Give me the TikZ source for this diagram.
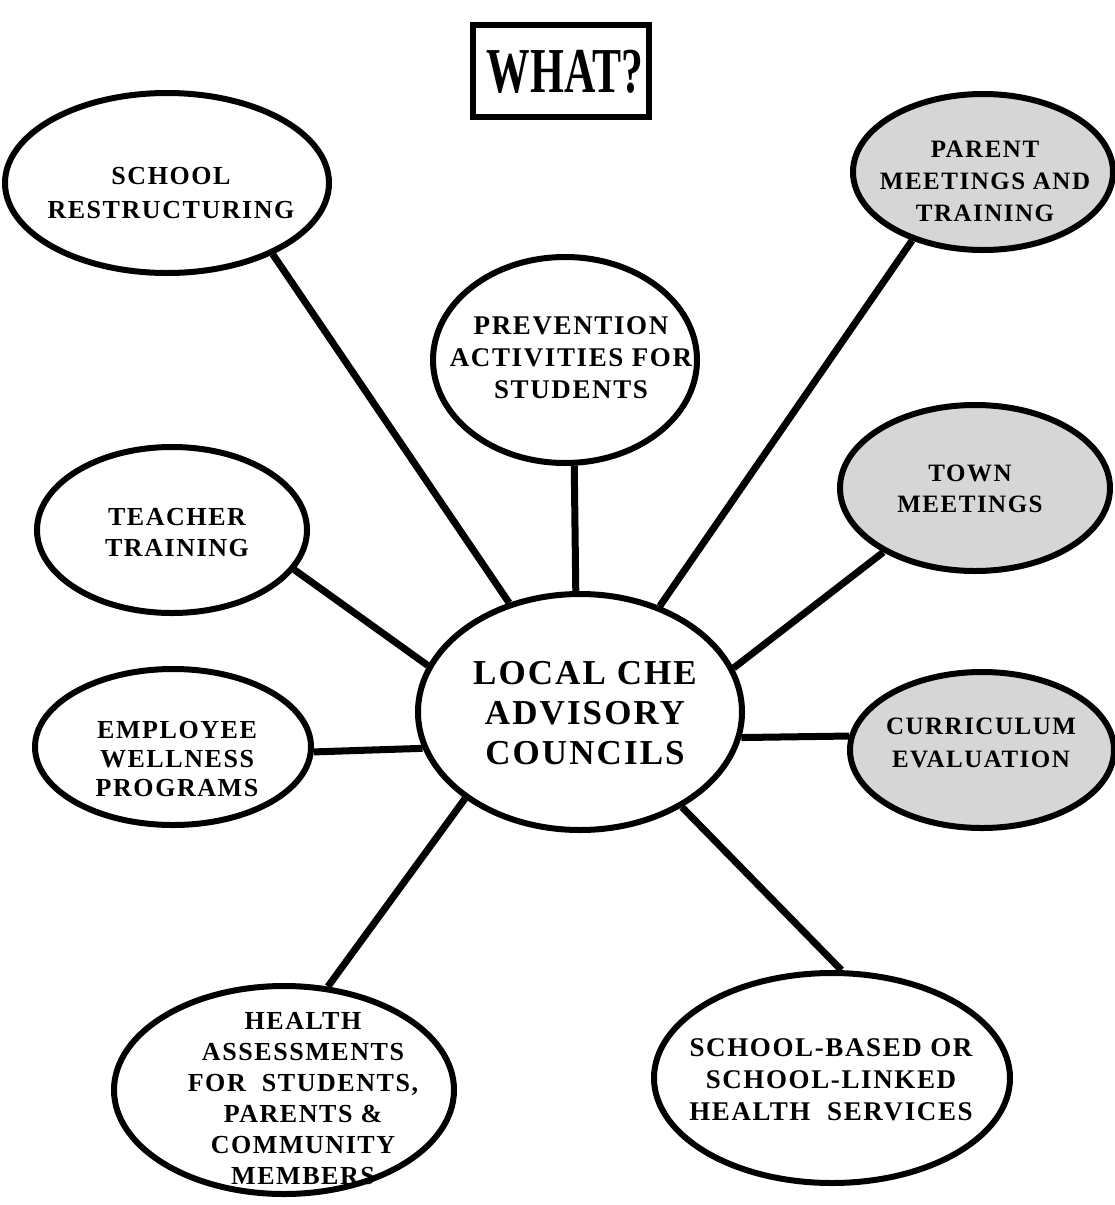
\documentclass[tikz,border=0pt]{standalone}
\usepackage{fontspec}
\usetikzlibrary{shapes.geometric}
\newfontfamily\lab{Liberation Serif Bold}[LetterSpace=6]
\newfontfamily\ttl{Liberation Serif Bold}[FakeStretch=0.68]
\newcommand{\fs}[2]{\lab\fontsize{#1}{#2}\selectfont}
\tikzset{
  bub/.style={ellipse, draw, line width=6pt, inner sep=0pt, fill=white},
  shaded/.style={fill=gray!32},
  txt/.style={align=center, inner sep=0pt},
  link/.style={line width=7pt},
}
\begin{document}
\begin{tikzpicture}[x=1pt,y=-1pt]
\useasboundingbox (0,0) rectangle (1114,1205);
% title
\node[draw, line width=6pt, minimum width=176pt, minimum height=92pt, inner sep=0pt] (title) at (561,71) {};
\node[txt, font={\ttl\fontsize{64}{64}\selectfont}] (titlet) at (565,72) {WHAT?};
% bubbles
\node[bub, minimum width=324pt, minimum height=180pt] (sr) at (167,183) {};
\node[bub, shaded, minimum width=260pt, minimum height=156pt] (pm) at (983,172) {};
\node[bub, minimum width=264pt, minimum height=206pt] (pa) at (565,360) {};
\node[bub, minimum width=270pt, minimum height=166pt] (tt) at (172,530) {};
\node[bub, shaded, minimum width=270pt, minimum height=166pt] (tm) at (975,488) {};
\node[bub, minimum width=324pt, minimum height=236pt] (lc) at (580,712) {};
\node[bub, minimum width=276pt, minimum height=156pt] (ew) at (173,747) {};
\node[bub, shaded, minimum width=264pt, minimum height=156pt] (ce) at (982,750) {};
\node[bub, minimum width=340pt, minimum height=208pt] (ha) at (284,1090) {};
\node[bub, minimum width=356pt, minimum height=210pt] (sb) at (832,1078) {};
% texts
\node[txt, font={\fs{26}{34}}] (srt) at (171,193) {SCHOOL\\RESTRUCTURING};
\node[txt, font={\fs{25}{32}}] (pmt) at (985,181) {PARENT\\MEETINGS AND\\TRAINING};
\node[txt, font={\fs{27}{32}}] (pat) at (571,358) {PREVENTION\\ACTIVITIES FOR\\STUDENTS};
\node[txt, font={\fs{26}{31}}] (ttt) at (177,533) {TEACHER\\TRAINING};
\node[txt, font={\fs{25}{31}}] (tmt) at (970,489) {TOWN\\MEETINGS};
\node[txt, font={\fs{35}{40}}] (lct) at (585,713) {LOCAL CHE\\ADVISORY\\COUNCILS};
\node[txt, font={\fs{26}{29}}] (ewt) at (177,759) {EMPLOYEE\\WELLNESS\\PROGRAMS};
\node[txt, font={\fs{25}{33}}] (cet) at (981,743) {CURRICULUM\\EVALUATION};
\node[txt, font={\fs{26}{31}}] (hat) at (303,1099) {HEALTH\\ASSESSMENTS\\FOR\ \ STUDENTS,\\PARENTS \&\\COMMUNITY\\MEMBERS};
\node[txt, font={\fs{27}{32}}] (sbt) at (831,1080) {SCHOOL-BASED OR\\SCHOOL-LINKED\\HEALTH\ \ SERVICES};
% connectors
\draw[link] (sr.-34.6) -- (lc.123.3);
\draw[link] (pa.-85) -- (lc.92);
\draw[link] (pm.-136.9) -- (lc.53.7);
\draw[link] (tt.-18.7) -- (lc.163.7);
\draw[link] (tm.215.8) -- (lc.16);
\draw[link] (ew.-2) -- (lc.193);
\draw[link] (ce.174) -- (lc.-9);
\draw[link] (ha.67.6) -- (lc.217.4);
\draw[link] (sb.85.4) -- (lc.-43.4);
\end{tikzpicture}
\end{document}
